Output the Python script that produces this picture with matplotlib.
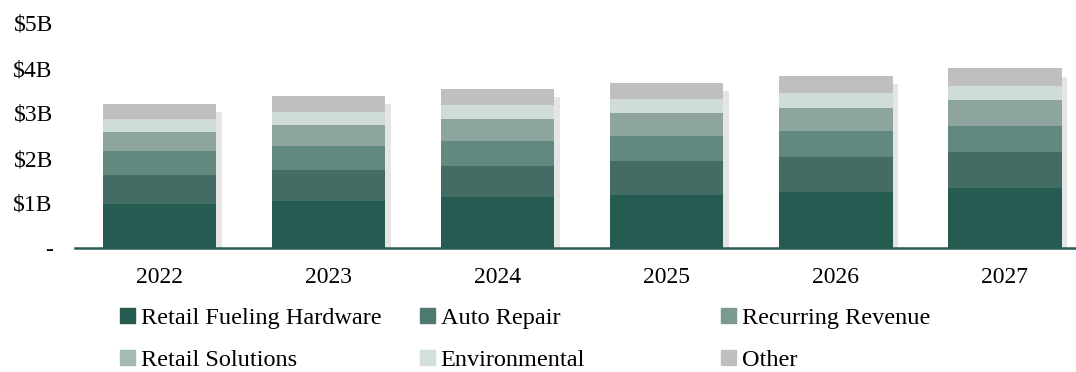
import matplotlib.pyplot as plt
import matplotlib.patheffects as pe
import numpy as np

# revenue by segment, $B
years = ["2022", "2023", "2024", "2025", "2026", "2027"]
segments = ["Retail Fueling Hardware", "Auto Repair", "Recurring Revenue",
            "Retail Solutions", "Environmental", "Other"]
fueling = [0.98, 1.05, 1.13, 1.18, 1.24, 1.34]
auto_repair = [0.65, 0.69, 0.70, 0.75, 0.78, 0.79]
recurring = [0.52, 0.53, 0.55, 0.56, 0.57, 0.58]
retail_sol = [0.42, 0.46, 0.49, 0.51, 0.53, 0.58]
environmental = [0.30, 0.30, 0.30, 0.31, 0.33, 0.32]
other = [0.33, 0.35, 0.36, 0.36, 0.38, 0.38]
ytick_labels = ["-", "\\$1B", "\\$2B", "\\$3B", "\\$4B", "\\$5B"]

bar_colors = ["#265b52", "#436d64", "#628980", "#8ea59f", "#d0dcda", "#bfbfbf"]
legend_colors = ["#265b52", "#4f7a71", "#7a9a92", "#a6bab5", "#d3e0de", "#bfbfbf"]

plt.rcParams['font.family'] = ['Liberation Serif', 'DejaVu Serif']

fig = plt.figure(figsize=(10.76, 3.72), dpi=100)
ax = fig.add_axes([75/1076, 1 - 248/372, 1 - 75/1076, 225/372])

series = [fueling, auto_repair, recurring, retail_sol, environmental, other]
x = np.arange(len(years))
width = 0.67

# soft shadow behind each full bar
totals = np.sum(series, axis=0)
sh = ax.bar(x, totals, width, color="white", edgecolor="none", zorder=1)
for b in sh:
    b.set_path_effects([pe.SimplePatchShadow(offset=(4, -6), shadow_rgbFace="#000000", alpha=0.10)])

bottom = np.zeros(len(years))
for vals, col, name in zip(series, bar_colors, segments):
    ax.bar(x, vals, width, bottom=bottom, color=col, edgecolor="none", label=name, zorder=2)
    bottom += np.array(vals)

ax.set_xlim(-0.5, 5.42)
ax.set_ylim(0, 5)
ax.set_yticks(np.arange(6))
ax.set_yticklabels(ytick_labels, fontsize=17)
ax.set_xticks(x)
ax.set_xticklabels(years, fontsize=17)
ax.tick_params(axis='y', length=0, pad=16)
ax.tick_params(axis='x', length=0, pad=14)
for s in ["top", "right", "left"]:
    ax.spines[s].set_visible(False)
ax.spines["bottom"].set_color("#265b52")
ax.spines["bottom"].set_linewidth(1.8)
ax.spines["bottom"].set_zorder(3)

# legend: three columns at fixed spacing
handles = [plt.Rectangle((0, 0), 1, 1, color=c) for c in legend_colors]
col_x = [120, 420, 721]
for i, cx in enumerate(col_x):
    fig.legend([handles[i], handles[i + 3]], [segments[i], segments[i + 3]],
               loc="upper left", bbox_to_anchor=(cx/1076, 1 - 308/372),
               frameon=False, fontsize=17.5, handlelength=0.6, handleheight=0.6,
               handletextpad=0.25, labelspacing=0.85, borderpad=0, borderaxespad=0)

fig.savefig("out.png", dpi=100)
